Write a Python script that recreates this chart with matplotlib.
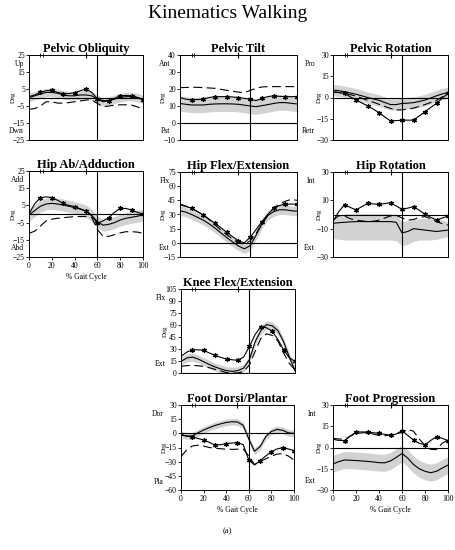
import matplotlib
matplotlib.use('Agg')
import matplotlib.pyplot as plt
import matplotlib.transforms as mtransforms

plt.rcParams['font.family'] = ['Liberation Serif', 'DejaVu Serif']

# ---------------- data ----------------
gait = [0, 5, 10, 15, 20, 25, 30, 35, 40, 45, 50, 55, 60, 65, 70, 75, 80, 85, 90, 95, 100]
opp_foot_off = [10, 12]
opp_foot_contact = [50]
toe_off = 60

# Pelvic Obliquity
po_mean = [0, 1, 2, 3, 3, 2.5, 1.5, 1, 1, 1.5, 1.5, 1, -1, -2.5, -2, -1, 0, 0.5, 0.5, 0, -1]
po_lo = [-2.5, -1.5, -0.5, 0.5, 0.5, 0, -1, -1.5, -1.5, -1, -1, -1.5, -3.5, -5, -4.5, -3.5, -2.5, -2, -2, -2.5, -3.5]
po_hi = [2.5, 3.5, 4.5, 5.5, 5.5, 5, 4, 3.5, 3.5, 4, 4, 3.5, 1.5, 0, 0.5, 1.5, 2.5, 3, 3, 2.5, 1.5]
po_pt = [0.5, 1.5, 3, 4, 4.2, 3, 2.3, 2.3, 2.8, 4, 5, 3, -0.8, -1.8, -1.8, -0.5, 1, 1.2, 1, 0, -1.5]
po_dash = [-7, -6.5, -5, -2.5, -2.5, -3.3, -3.3, -3, -2.5, -2, -1.5, -1.5, -3.5, -5.5, -5, -4.5, -4.3, -4.3, -4.5, -5.5, -7]

# Pelvic Tilt
pt_mean = [11.5, 11, 10.6, 10.6, 10.6, 11, 11.2, 11.3, 11.3, 11.2, 11, 10.5, 10, 9.6, 10.2, 10.8, 11.5, 12, 12, 11.6, 11.2]
pt_lo = [7, 6.5, 6.1, 6.1, 6.1, 6.5, 6.7, 6.8, 6.8, 6.7, 6.5, 6, 5.5, 5.1, 5.7, 6.3, 7, 7.5, 7.5, 7.1, 6.7]
pt_hi = [16, 15.5, 15.1, 15.1, 15.1, 15.5, 15.7, 15.8, 15.8, 15.7, 15.5, 15, 14.5, 14.1, 14.7, 15.3, 16, 16.5, 16.5, 16.1, 15.7]
pt_pt = [15, 14, 13.6, 13.8, 14, 15, 15.5, 15.5, 15.5, 15.3, 15, 14.5, 14, 13.2, 14.5, 15.5, 16, 15.7, 15.5, 15.5, 15.5]
pt_dash = [20.8, 20.9, 21, 21, 20.8, 20.6, 20.4, 19.8, 19.2, 18.6, 18.2, 17.8, 19.2, 20.4, 21.2, 21.4, 21.4, 21.4, 21.4, 21.4, 21.4]

# Pelvic Rotation
pr_mean = [5.3, 4.8, 4.1, 3.2, 2.3, 1.2, 0, -1, -2, -3.5, -5, -5, -4.2, -4, -3.6, -2.8, -1.8, -0.3, 1.2, 2.5, 3.4]
pr_lo = [1.3, 0.8, 0.1, -0.8, -1.7, -2.8, -4, -5, -6, -7.5, -9, -9, -8.2, -8, -7.6, -6.8, -5.8, -4.3, -2.8, -1.5, -0.6]
pr_hi = [9.3, 8.8, 8.1, 7.2, 6.3, 5.2, 4, 3, 2, 0.5, -1, -1, -0.2, 0, 0.4, 1.2, 2.2, 3.7, 5.2, 6.5, 7.4]
pr_pt = [4, 3.5, 2.9, 0.5, -1.8, -3.8, -5.8, -8.2, -10.7, -13.7, -16.6, -16.3, -16, -16, -16, -13, -10, -7, -4.1, -0.5, 2.9]
pr_dash = [4, 3.5, 3, 2, 1, -0.5, -2, -3.3, -4.8, -6.3, -7.7, -8.8, -8.7, -8.2, -7.5, -6.3, -5, -3.5, -2, 0.5, 2.9]

# Hip Ab/Adduction
ha_mean = [-0.6, 2, 4.5, 5.8, 6.2, 5.8, 5.2, 4.5, 3.7, 2.8, 1.7, -0.8, -4.5, -6.5, -6, -5, -3.5, -2.5, -1.9, -1.3, -0.6]
ha_lo = [-4.1, -1.5, 1, 2.3, 2.7, 2.3, 1.7, 1, 0.2, -0.7, -1.8, -4.3, -8, -10, -9.5, -8.5, -7, -6, -5.4, -4.8, -4.1]
ha_hi = [2.9, 5.5, 8, 9.3, 9.7, 9.3, 8.7, 8, 7.2, 6.3, 5.2, 2.7, -1, -3, -2.5, -1.5, 0, 1, 1.6, 2.2, 2.9]
ha_pt = [0, 6, 9.3, 10, 9.5, 8, 6.2, 5, 4.3, 3, 1.7, -1, -5.4, -4, -2.1, 1, 3.3, 3.2, 2.3, 1, 0]
ha_dash = [-11.2, -10, -7, -4, -3, -2.5, -2.2, -1.8, -1.5, -1.5, -1.5, -2, -9, -13, -13, -12, -11, -10.3, -10.3, -10.5, -11.2]

# Hip Flex/Extension
hf_mean = [34, 32.5, 30, 27, 24, 20, 15.5, 10.5, 5.5, 1, -3.4, -6.3, -3, 8, 20, 29, 33, 35, 35, 34, 33.5]
hf_lo = [29, 27.5, 25, 22, 19, 15, 10.5, 5.5, 0.5, -4, -8.4, -11.3, -8, 3, 15, 24, 28, 30, 30, 29, 28.5]
hf_hi = [39, 37.5, 35, 32, 29, 25, 20.5, 15.5, 10.5, 6, 1.6, -1.3, 2, 13, 25, 34, 38, 40, 40, 39, 38.5]
hf_pt = [40, 38.5, 36.5, 33, 29.5, 25, 20.5, 16, 11, 6.5, 2, 0, 6, 14, 22.5, 30, 36.5, 39.5, 41, 41, 40.8]
hf_dash = [41, 39, 36.5, 33, 29.5, 24.5, 19, 13.5, 8.5, 4, 0, -1.3, 2, 10, 20, 29, 37, 41, 44, 46, 45]

# Hip Rotation
hr_mean = [-6.2, -5.8, -5.5, -5.2, -5, -5, -5, -5, -5, -5, -5, -5.5, -13, -12, -10, -10.5, -11, -11.5, -12, -11.5, -11]
hr_lo = [-17, -17.5, -18, -18, -18, -18, -18, -18, -18, -18, -18, -18.5, -22, -21, -19, -18, -18, -18, -17.5, -16.5, -15.5]
hr_hi = [-4, -1.5, 0.5, 0.8, 0.8, 0.8, 0.8, 0.8, 0.8, 0.8, 0.5, 0, -5, -4.5, -3.5, -3, -2.7, -2.7, -3, -4, -5]
hr_pt = [-5, 2, 7, 5, 3.2, 5.5, 7.8, 7.5, 7.1, 7.7, 8.3, 6, 3.6, 4.5, 5.5, 3, 0.1, -2, -3.9, -2.5, -1]
hr_dash = [-4, -1, -1, -3, -4, -4.5, -5, -4.8, -4, -2.5, -1, -0.5, -2.5, -4, -3.5, -2, -1.5, -3, -5, -6.5, -7.4]

# Knee Flex/Extension
kn_mean = [14.5, 18.7, 19.9, 17.5, 14, 10.5, 7.5, 5, 3, 2, 3, 6.2, 16.6, 39, 53, 60.5, 59, 53, 39, 20, 3]
kn_lo = [9.5, 13.7, 14.9, 12.5, 9, 5.5, 2.5, 0, 0, 0, 0, 1.2, 11.6, 34, 48, 55.5, 54, 48, 34, 15, 0]
kn_hi = [19.5, 23.7, 24.9, 22.5, 19, 15.5, 12.5, 10, 8, 7, 8, 11.2, 21.6, 44, 58, 65.5, 64, 58, 44, 25, 8]
kn_pt = [20.7, 26, 29, 29, 28.2, 25, 22, 19.5, 17.4, 16.5, 15.8, 20, 33.2, 48, 58, 56.5, 52, 42, 29, 19, 14.5]
kn_dash = [8.3, 9.2, 9.5, 9, 8.3, 6.5, 4.5, 2.5, 0.5, 0, 0, 2, 10, 27, 43, 49, 47, 40, 25, 12, 4]

# Foot Dorsi/Plantar
fd_mean = [-1, -2.8, -2.8, 0.5, 3.5, 6, 8.3, 10, 11.5, 12.3, 12, 8.5, -6, -19, -14, -3.5, 2, 4.2, 3.2, 0.5, 0]
fd_lo = [-4.5, -6.3, -6.3, -3, 0, 2.5, 4.8, 6.5, 8, 8.8, 8.5, 5, -9.5, -22.5, -17.5, -7, -1.5, 0.7, -0.3, -3, -3.5]
fd_hi = [2.5, 0.7, 0.7, 4, 7, 9.5, 11.8, 13.5, 15, 15.8, 15.5, 12, -2.5, -15.5, -10.5, 0, 5.5, 7.7, 6.7, 4, 3.5]
fd_pt = [-1.8, -3, -3.8, -5.5, -7, -9.5, -12.4, -12, -11, -10.3, -9.9, -12, -28, -33.5, -29, -24, -19.4, -16.5, -15.2, -16.5, -18.4]
fd_dash = [-24.7, -17.6, -13.4, -12.6, -13.5, -15, -15.8, -16.3, -16.8, -17, -16.8, -16.6, -24, -33, -30, -27, -24.3, -22, -21.5, -24, -28.3]

# Foot Progression
fp_mean = [-11.6, -10, -8.8, -9, -9.2, -9.5, -9.8, -10.2, -10.7, -10.8, -9.5, -7, -4.2, -7.5, -12, -15, -16.8, -17.8, -16.8, -14.5, -12.4]
fp_lo = [-17.6, -16, -14.8, -15, -15.2, -15.5, -15.8, -16.2, -16.7, -16.8, -15.5, -13, -10.2, -13.5, -18, -21, -22.8, -23.8, -22.8, -20.5, -18.4]
fp_hi = [-5.6, -4, -2.8, -3, -3.2, -3.5, -3.8, -4.2, -4.7, -4.8, -3.5, -1, 1.8, -1.5, -6, -9, -10.8, -11.8, -10.8, -8.5, -6.4]
fp_pt = [5.8, 5, 4.8, 8, 10.9, 11, 10.9, 10.4, 10, 9.3, 8.6, 9.5, 11.9, 8.5, 5.3, 3, 1.8, 5, 7.6, 6.5, 4.8]
fp_dash = [6.5, 6, 5.8, 8, 10, 10.3, 10.5, 9.5, 8.5, 8.3, 8.8, 9.8, 10.5, 12.8, 11.5, 6, 1.5, -1.3, -1.5, 3, 5.3]

panels = [
    dict(title='Pelvic Obliquity', rect=(29, 55, 114, 85), ylim=(-25, 25), yticks=[25, 15, 5, -5, -15, -25],
         lab=('Up', 'Dwn'), s=(po_mean, po_lo, po_hi, po_pt, po_dash), xl=False, lo=-5, do=-16, ly=0.11),
    dict(title='Pelvic Tilt', rect=(180, 55, 117, 85), ylim=(-10, 40), yticks=[40, 30, 20, 10, 0, -10],
         lab=('Ant', 'Pst'), s=(pt_mean, pt_lo, pt_hi, pt_pt, pt_dash), xl=False, lo=-10, do=-17, ly=0.11),
    dict(title='Pelvic Rotation', rect=(333, 55, 115, 85), ylim=(-30, 30), yticks=[30, 15, 0, -15, -30],
         lab=('Pro', 'Retr'), s=(pr_mean, pr_lo, pr_hi, pr_pt, pr_dash), xl=False, lo=-18, do=-14, ly=0.11),
    dict(title='Hip Ab/Adduction', rect=(29, 171, 114, 86), ylim=(-25, 25), yticks=[25, 15, 5, -5, -15, -25],
         lab=('Add', 'Abd'), s=(ha_mean, ha_lo, ha_hi, ha_pt, ha_dash), xl=True, lo=-5, do=-16, ly=0.11),
    dict(title='Hip Flex/Extension', rect=(180, 172, 117, 85), ylim=(-15, 75), yticks=[75, 60, 45, 30, 15, 0, -15],
         lab=('Flx', 'Ext'), s=(hf_mean, hf_lo, hf_hi, hf_pt, hf_dash), xl=False, lo=-10, do=-17, ly=0.11),
    dict(title='Hip Rotation', rect=(333, 172, 115, 85), ylim=(-30, 30), yticks=[30, 10, -10, -30],
         lab=('Int', 'Ext'), s=(hr_mean, hr_lo, hr_hi, hr_pt, hr_dash), xl=False, lo=-18, do=-14, ly=0.11),
    dict(title='Knee Flex/Extension', rect=(181, 289, 114, 84), ylim=(0, 105), yticks=[105, 90, 75, 60, 45, 30, 15, 0],
         lab=('Flx', 'Ext'), s=(kn_mean, kn_lo, kn_hi, kn_pt, kn_dash), xl=False, lo=-15, do=-16, ly=0.11),
    dict(title='Foot Dorsi/Plantar', rect=(181, 405, 113, 85), ylim=(-60, 30), yticks=[30, 15, 0, -15, -30, -45, -60],
         lab=('Dor', 'Pla'), s=(fd_mean, fd_lo, fd_hi, fd_pt, fd_dash), xl=True, lo=-17, do=-17, ly=0.09),
    dict(title='Foot Progression', rect=(333, 405, 115, 85), ylim=(-30, 30), yticks=[30, 15, 0, -15, -30],
         lab=('Int', 'Ext'), s=(fp_mean, fp_lo, fp_hi, fp_pt, fp_dash), xl=True, lo=-17, do=-14, ly=0.11),
]

W, H = 455, 550
fig = plt.figure(figsize=(W / 100, H / 100), dpi=100)
fig.text(0.5, 1 - 13 / H, 'Kinematics Walking', ha='center', va='center', fontsize=14)
fig.text(0.5, 1 - 531 / H, '(a)', ha='center', va='center', fontsize=6)

for p in panels:
    l, t, w, h = p['rect']
    ax = fig.add_axes([l / W, 1 - (t + h) / H, w / W, h / H])
    mean, lo, hi, pt, dash = p['s']
    ax.fill_between(gait, lo, hi, color='#d2d2d2', lw=0, zorder=1)
    ax.plot(gait, mean, color='black', lw=0.8, zorder=3)
    ax.plot(gait, dash, color='black', lw=0.8, ls=(0, (8, 4)), zorder=3)
    ax.plot(gait, pt, color='black', lw=0.8, marker=(6, 2, 0), ms=3.5, mew=0.9,
            markevery=list(range(2, len(gait), 2)), zorder=4)
    ax.axhline(0, color='black', lw=0.8, zorder=2)
    ax.axvline(toe_off, color='black', lw=0.8, zorder=2)
    y0, y1 = p['ylim']
    ax.set_xlim(0, 100)
    ax.set_ylim(y0, y1)
    ax.plot(opp_foot_off, [y1] * len(opp_foot_off), ls='none', marker='|', ms=3, mew=0.6,
            color='black', clip_on=False, zorder=5)
    ax.plot(opp_foot_contact, [y1] * len(opp_foot_contact), ls='none', marker='|', ms=4, mew=0.8,
            color='black', clip_on=False, zorder=5)
    ax.set_yticks(p['yticks'])
    ax.tick_params(axis='y', direction='out', length=2, width=0.6, labelsize=5.5, pad=1)
    if p['xl']:
        ax.set_xticks([0, 20, 40, 60, 80, 100])
        ax.tick_params(axis='x', direction='out', length=2, width=0.6, labelsize=5.5, pad=1.5)
        ax.set_xlabel('% Gait Cycle', fontsize=5.5, labelpad=2)
    else:
        ax.set_xticks([])
    for sp in ax.spines.values():
        sp.set_linewidth(0.7)
    ax.set_title(p['title'], fontsize=9, fontweight='bold', pad=2.5)
    off = mtransforms.offset_copy(ax.transAxes, fig=fig, x=p['lo'] * 0.72, y=0, units='points')
    ax.text(0, 0.89, p['lab'][0], transform=off, ha='right', va='center', fontsize=5.5)
    ax.text(0, p['ly'], p['lab'][1], transform=off, ha='right', va='center', fontsize=5.5)
    offd = mtransforms.offset_copy(ax.transAxes, fig=fig, x=p['do'] * 0.72, y=0, units='points')
    ax.text(0, 0.5, 'Deg', transform=offd, ha='center', va='center', rotation=90, fontsize=5)

fig.savefig('out.png', dpi=100)
